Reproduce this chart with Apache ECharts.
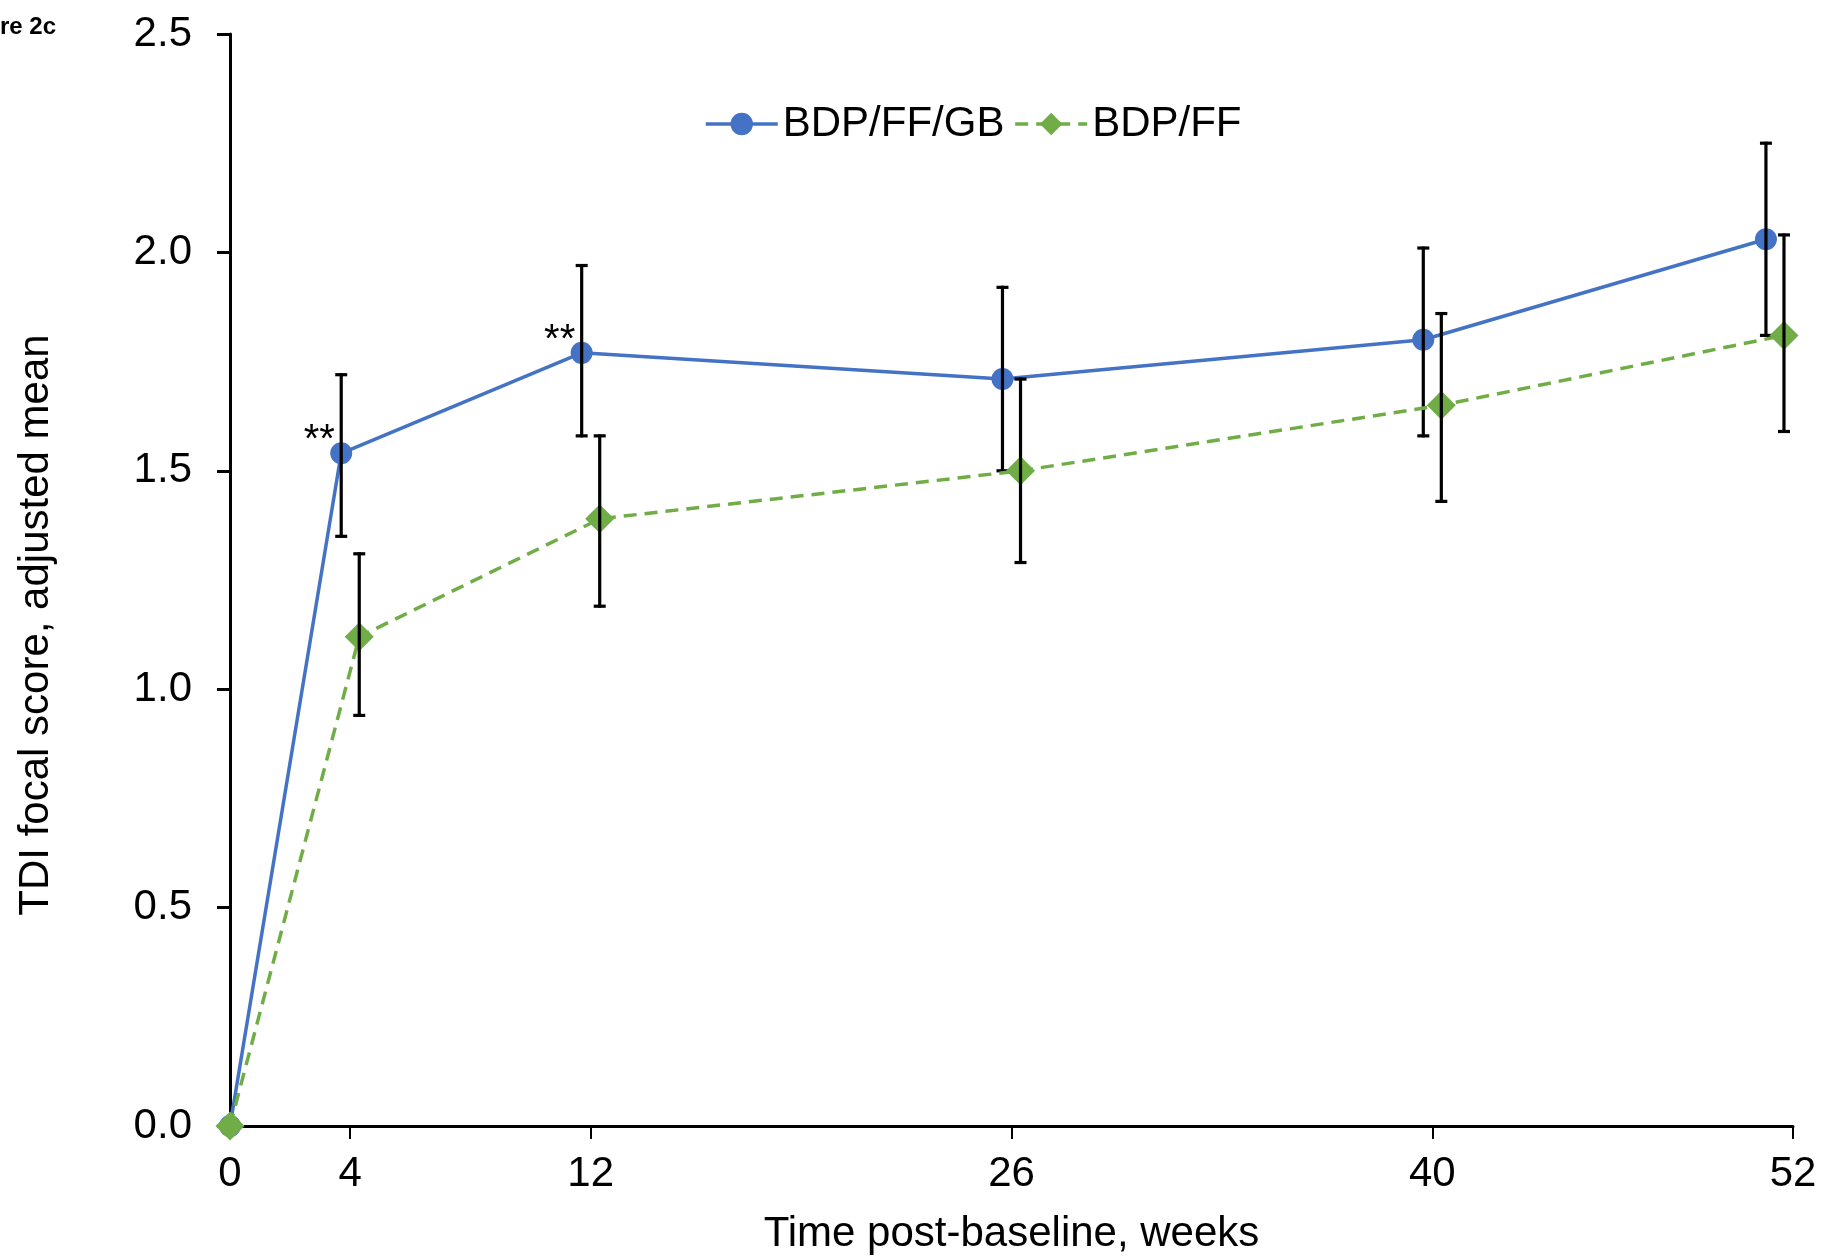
<!DOCTYPE html>
<html>
<head>
<meta charset="utf-8">
<script src="https://cdn.jsdelivr.net/npm/echarts@6/dist/echarts.min.js"></script>
<style>
html,body{margin:0;padding:0;background:#fff;}
#chart{width:1835px;height:1260px;}
</style>
</head>
<body>
<div id="chart"></div>
<script>
const weekTicks = [0, 4, 12, 26, 40, 52];
const tripleName = 'BDP/FF/GB';
const dualName = 'BDP/FF';
const tripleX = [0, 3.7, 11.7, 25.7, 39.7, 51.1];
const tripleMean = [0, 1.54, 1.77, 1.71, 1.80, 2.03];
const tripleLow = [null, 1.35, 1.58, 1.50, 1.58, 1.81];
const tripleHigh = [null, 1.72, 1.97, 1.92, 2.01, 2.25];
const dualX = [0, 4.3, 12.3, 26.3, 40.3, 51.7];
const dualMean = [0, 1.12, 1.39, 1.50, 1.65, 1.81];
const dualLow = [null, 0.94, 1.19, 1.29, 1.43, 1.59];
const dualHigh = [null, 1.31, 1.58, 1.71, 1.86, 2.04];
const tripleSig = ['', '**', '**', '', '', ''];
const xAxisTitle = 'Time post-baseline, weeks';
const yAxisTitle = 'TDI focal score, adjusted mean';
const figLabel = 're 2c';

const FONT = '"Liberation Sans", Arial, sans-serif';
const BLUE = '#4472C4';
const GREEN = '#70AD47';

function pts(xs, ys) { return xs.map((x, i) => [x, ys[i]]); }
function errs(xs, lo, hi) {
  const out = [];
  xs.forEach((x, i) => { if (lo[i] != null) out.push([x, lo[i], hi[i]]); });
  return out;
}
function errorRender(params, api) {
  const x = api.value(0), lo = api.value(1), hi = api.value(2);
  const pLo = api.coord([x, lo]), pHi = api.coord([x, hi]);
  const hw = 6;
  const vs = { stroke: '#000', lineWidth: 3.2 };
  const cs = { stroke: '#000', lineWidth: 3.2 };
  return { type: 'group', children: [
    { type: 'line', shape: { x1: pLo[0], y1: pLo[1] + 1.5, x2: pHi[0], y2: pHi[1] - 1.5 }, style: vs },
    { type: 'line', shape: { x1: pLo[0] - hw, y1: pLo[1], x2: pLo[0] + hw, y2: pLo[1] }, style: cs },
    { type: 'line', shape: { x1: pHi[0] - hw, y1: pHi[1], x2: pHi[0] + hw, y2: pHi[1] }, style: cs }
  ]};
}

const chart = echarts.init(document.getElementById('chart'), null, { renderer: 'canvas' });
chart.setOption({
  animation: false,
  backgroundColor: '#fff',
  textStyle: { fontFamily: FONT },
  graphic: [{
    type: 'text', left: 0, top: 15,
    style: { text: figLabel, font: 'bold 24px ' + FONT, fill: '#000' }
  }, {
    type: 'text', x: 36, y: 625, rotation: Math.PI / 2,
    style: { text: yAxisTitle, font: '42px ' + FONT, fill: '#000', align: 'center', verticalAlign: 'middle' }
  }],
  legend: {
    data: [tripleName, dualName],
    left: 699, top: 98,
    itemWidth: 72, itemHeight: 28, itemGap: 9,
    lineStyle: { width: 3.5 },
    textStyle: { fontSize: 42, color: '#000', fontFamily: FONT }
  },
  grid: { left: 230, right: 42, top: 34, bottom: 133, containLabel: false },
  xAxis: {
    type: 'value', min: 0, max: 52,
    name: xAxisTitle, nameLocation: 'middle', nameGap: 87,
    nameTextStyle: { fontSize: 42, color: '#000', fontFamily: FONT },
    axisLine: { show: true, onZero: false, lineStyle: { color: '#000', width: 3 } },
    axisTick: { show: true, length: 13, lineStyle: { color: '#000', width: 2 }, customValues: weekTicks },
    axisLabel: { fontSize: 42, color: '#000', margin: 27, fontFamily: FONT, customValues: weekTicks },
    splitLine: { show: false }
  },
  yAxis: {
    type: 'value', min: 0, max: 2.5, interval: 0.5,
    axisLine: { show: true, lineStyle: { color: '#000', width: 3 } },
    axisTick: { show: true, length: 13, lineStyle: { color: '#000', width: 3 } },
    axisLabel: { fontSize: 42, color: '#000', margin: 38, fontFamily: FONT, formatter: v => v.toFixed(1) },
    splitLine: { show: false }
  },
  series: [
    {
      name: tripleName, type: 'line', data: pts(tripleX, tripleMean),
      symbol: 'circle', symbolSize: 22, clip: false, z: 3,
      lineStyle: { color: BLUE, width: 3.5 }, itemStyle: { color: BLUE },
      label: {
        show: true, position: 'inside', offset: [-22, -12],
        fontSize: 40, color: '#000', fontFamily: FONT,
        formatter: p => tripleSig[p.dataIndex]
      }
    },
    {
      name: tripleName + ' err', type: 'custom', renderItem: errorRender,
      data: errs(tripleX, tripleLow, tripleHigh), z: 4, clip: false,
      encode: { x: 0, y: [1, 2] }
    },
    {
      name: dualName, type: 'line', data: pts(dualX, dualMean),
      symbol: 'diamond', symbolSize: 29, clip: false, z: 5,
      lineStyle: { color: GREEN, width: 3.5, type: [13, 8] }, itemStyle: { color: GREEN }
    },
    {
      name: dualName + ' err', type: 'custom', renderItem: errorRender,
      data: errs(dualX, dualLow, dualHigh), z: 6, clip: false,
      encode: { x: 0, y: [1, 2] }
    }
  ]
});
</script>
</body>
</html>
